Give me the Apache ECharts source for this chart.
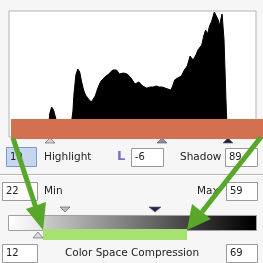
<!DOCTYPE html>
<html>
<head>
<meta charset="utf-8">
<script src="https://cdn.jsdelivr.net/npm/echarts@6/dist/echarts.min.js"></script>
<style>
  html, body { margin: 0; padding: 0; background: #f6f6f6; }
  #chart { width: 263px; height: 263px; }
</style>
</head>
<body>
<div id="chart"></div>
<script>
// histogram: tone level (0-255) and relative count
var histLevels = [2, 41, 42, 44, 46, 49, 50, 64, 66, 67, 69, 71, 73, 75, 77, 79, 82, 85, 87, 89, 91, 93, 95, 97, 99, 101, 103, 105, 107, 109, 111, 114, 116, 118, 120, 122, 124, 126, 128, 130, 132, 134, 136, 138, 140, 142, 146, 149, 152, 155, 158, 161, 164, 167, 169, 171, 174, 178, 181, 184, 187, 190, 193, 195, 197, 199, 201, 203, 205, 207, 209, 212, 214, 216, 217, 219, 220, 222, 223, 224, 225, 255];
var histCounts = [0, 0, 12, 19, 16, 5, 0, 0, 15, 31, 51, 57, 54, 44, 36, 31, 27, 24, 25, 30, 36, 41, 45, 46, 49, 47, 52, 54, 56, 58, 56, 52, 50, 53, 54, 52, 50, 48, 46, 42, 42, 44, 42, 40, 38, 38, 39, 39, 40, 39, 39, 38, 37, 36, 40, 46, 48, 50, 56, 60, 70, 66, 71, 76, 74, 81, 90, 96, 92, 100, 104, 114, 115, 106, 100, 108, 112, 86, 56, 26, 0, 0];

// slider / field values
var fieldLabels = ['Highlight', 'Shadow', 'Min', 'Max', 'Color Space Compression'];
var fieldValues = ['10', '-6', '89', '22', '59', '12', '69'];

var myChart = echarts.init(document.getElementById('chart'));

var font = '10.5px "DejaVu Sans"';
var numFont = '10px "DejaVu Sans"';
var green = '#58a72a';

function box(x, y, w, h, fill, stroke) {
    return { type: 'rect', shape: { x: x, y: y, width: w, height: h }, style: { fill: fill || '#fff', stroke: stroke || '#9a9a9a', lineWidth: 1 }, z: 10 };
}
function txt(t, x, y, align, f) {
    return { type: 'text', style: { text: t, x: x, y: y, fill: '#222', font: f || font, textAlign: align || 'left', textVerticalAlign: 'middle' }, z: 12 };
}
function tri(pts, fill) {
    return { type: 'polygon', shape: { points: pts }, style: { fill: fill, stroke: '#555', lineWidth: 0.6 }, z: 11 };
}

var graphics = [
    // orange band over the bottom of the histogram
    { type: 'rect', shape: { x: 11, y: 119, width: 252, height: 20 }, style: { fill: '#d3704f' }, z: 20 },
    // slider marks under the histogram
    tri([[50, 138], [45, 143], [55, 143]], '#d6d0dc'),
    tri([[162, 138], [157, 143], [167, 143]], '#8c8cb0'),
    tri([[228, 138], [223, 143], [233, 143]], '#22224f'),
    // row 1
    box(6.5, 147.5, 30, 19, '#c6d6ee', '#7c9acb'),
    txt(fieldValues[0], 10, 157, 'left', numFont),
    txt(fieldLabels[0], 44, 157),
    { type: 'text', style: { text: 'L', x: 117, y: 157, fill: '#7b6fc4', font: 'bold 13px "DejaVu Sans"', textVerticalAlign: 'middle' }, z: 12 },
    box(131.5, 148.5, 32, 18),
    txt(fieldValues[1], 135, 157.5, 'left', numFont),
    txt(fieldLabels[1], 180, 157),
    box(225.5, 148.5, 32, 18),
    txt(fieldValues[2], 229, 157.5, 'left', numFont),
    // separator
    { type: 'rect', shape: { x: 0, y: 174, width: 263, height: 1 }, style: { fill: '#b8b8b8' }, z: 5 },
    { type: 'rect', shape: { x: 0, y: 175, width: 263, height: 1 }, style: { fill: '#ffffff' }, z: 5 },
    // row 2
    box(2.5, 182.5, 35, 18),
    txt(fieldValues[3], 6, 191.5, 'left', numFont),
    txt(fieldLabels[2], 44, 191),
    txt(fieldLabels[3], 197, 191),
    box(226.5, 182.5, 31, 18),
    txt(fieldValues[4], 230, 191.5, 'left', numFont),
    tri([[65, 212], [60, 207], [70, 207]], '#b8b8cc'),
    tri([[155, 212], [149, 207], [161, 207]], '#26265e'),
    // gradient bar
    { type: 'rect', shape: { x: 8.5, y: 215.5, width: 248, height: 15 },
      style: { stroke: '#a0a0a0', lineWidth: 1,
        fill: new echarts.graphic.LinearGradient(0, 0, 1, 0, [
            { offset: 0, color: '#ffffff' },
            { offset: 0.14, color: '#e6e6e6' },
            { offset: 0.141, color: '#cccccc' },
            { offset: 0.55, color: '#6e6e6e' },
            { offset: 0.98, color: '#000000' },
            { offset: 1, color: '#000000' }
        ]) }, z: 8 },
    { type: 'rect', shape: { x: 43, y: 229, width: 144, height: 11 }, style: { fill: '#a6e172' }, z: 9 },
    tri([[38, 232], [33, 238], [43, 238]], '#d8d8e2'),
    // bottom row
    box(2.5, 244.5, 35, 18),
    txt(fieldValues[5], 6, 253.5, 'left', numFont),
    txt(fieldLabels[4], 132, 253, 'center'),
    box(226.5, 244.5, 31, 18),
    txt(fieldValues[6], 230, 253.5, 'left', numFont),
    // green arrows
    { type: 'line', shape: { x1: 13, y1: 138, x2: 37, y2: 211 }, style: { stroke: green, lineWidth: 5 }, z: 30 },
    { type: 'polygon', shape: { points: [[43, 230], [26, 209], [46, 202]] }, style: { fill: green }, z: 30 },
    { type: 'line', shape: { x1: 261, y1: 137, x2: 202, y2: 212 }, style: { stroke: green, lineWidth: 5 }, z: 30 },
    { type: 'polygon', shape: { points: [[187, 230], [192, 204], [211, 219]] }, style: { fill: green }, z: 30 }
];

var option = {
    animation: false,
    backgroundColor: '#f6f6f6',
    grid: {
        left: 9, top: 11, width: 247, height: 126,
        show: true, backgroundColor: '#ffffff', borderColor: '#b4b4b4', borderWidth: 1
    },
    xAxis: {
        type: 'value', min: 0, max: 255,
        axisLine: { show: false }, axisTick: { show: false }, axisLabel: { show: false }, splitLine: { show: false }
    },
    yAxis: {
        type: 'value', min: -11, max: 115,
        axisLine: { show: false }, axisTick: { show: false }, axisLabel: { show: false }, splitLine: { show: false }
    },
    series: [{
        type: 'line',
        symbol: 'none',
        smooth: false,
        lineStyle: { color: '#000', width: 1 },
        areaStyle: { color: '#000', opacity: 1, origin: 0 },
        data: histLevels.map(function (l, i) { return [l, histCounts[i]]; })
    }],
    graphic: graphics
};
myChart.setOption(option);
</script>
</body>
</html>
